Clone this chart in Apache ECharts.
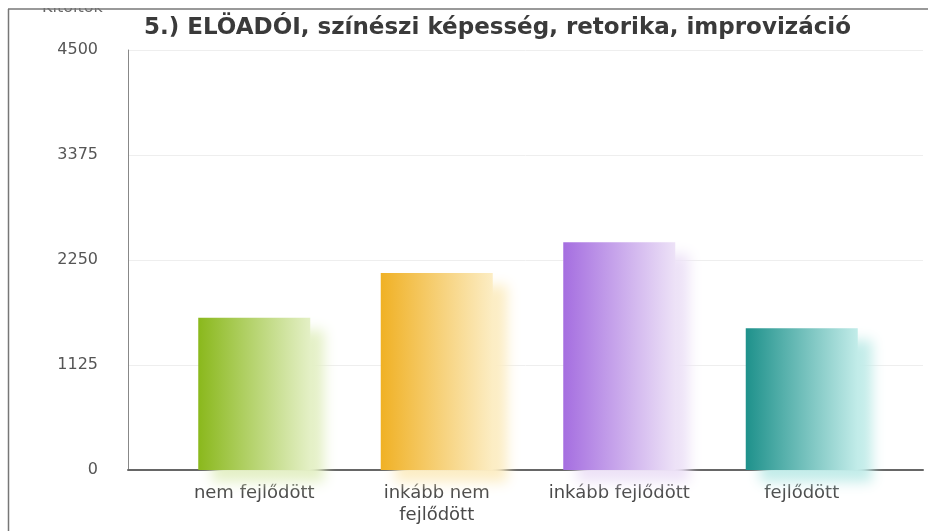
<!DOCTYPE html>
<html>
<head>
<meta charset="utf-8">
<script src="https://cdn.jsdelivr.net/npm/echarts@6/dist/echarts.min.js"></script>
<style>
  html, body { margin: 0; padding: 0; background: #fff; }
  #chart { width: 928px; height: 531px; }
</style>
</head>
<body>
<div id="chart"></div>
<script>
// adatok
const categories = ['nem fejlődött', 'inkább nem\nfejlődött', 'inkább fejlődött', 'fejlődött']
const values = [1630, 2110, 2440, 1520]
const yTicks = [0, 1125, 2250, 3375, 4500]

// színek (bal -> jobb átmenet)
const darkColors = ['#8ab81c', '#f0b125', '#a56ee0', '#1e918b']
const lightColors = ['#e4f0c6', '#fcedc4', '#ede2f7', '#c2ece9']

const chart = echarts.init(document.getElementById('chart'))

const barData = values.map((v, i) => ({
  value: v,
  itemStyle: {
    color: new echarts.graphic.LinearGradient(0, 0, 1, 0, [
      { offset: 0, color: darkColors[i] },
      { offset: 1, color: lightColors[i] }
    ]),
    shadowColor: lightColors[i],
    shadowBlur: 12,
    shadowOffsetX: 14,
    shadowOffsetY: 12
  }
}))

const option = {
  backgroundColor: '#fff',
  animation: false,
  title: {
    text: '5.) ELÖADÓI, színészi képesség, retorika, improvizáció',
    left: 139,
    top: 12,
    textStyle: {
      fontFamily: 'DejaVu Sans',
      fontSize: 23,
      fontWeight: 'bold',
      color: '#3a3a3a'
    }
  },
  grid: [
    { left: 128, right: 5, top: 50, bottom: 61 },
    { left: 163, right: 35, top: 50, bottom: 61 }
  ],
  xAxis: [
    {
      gridIndex: 0,
      type: 'category',
      data: [''],
      axisLine: { lineStyle: { color: '#666', width: 2 } },
      axisTick: { show: false },
      axisLabel: { show: false }
    },
    {
      gridIndex: 1,
      type: 'category',
      data: categories,
      axisLine: { show: false },
      axisTick: { show: false },
      axisLabel: {
        interval: 0,
        color: '#4a4a4a',
        fontFamily: 'DejaVu Sans',
        fontSize: 18,
        lineHeight: 22,
        margin: 12
      }
    }
  ],
  yAxis: [
    {
      gridIndex: 0,
      type: 'value',
      min: yTicks[0],
      max: yTicks[yTicks.length - 1],
      interval: yTicks[1] - yTicks[0],
      axisLine: { show: true, lineStyle: { color: '#888', width: 1 } },
      axisTick: { show: false },
      splitLine: { lineStyle: { color: '#eeeeee' } },
      axisLabel: {
        color: '#555',
        fontFamily: 'DejaVu Sans',
        fontSize: 16,
        margin: 30,
        formatter: v => String(v)
      }
    },
    {
      gridIndex: 1,
      type: 'value',
      min: yTicks[0],
      max: yTicks[yTicks.length - 1],
      show: false
    }
  ],
  series: [
    {
      type: 'bar',
      xAxisIndex: 1,
      yAxisIndex: 1,
      barWidth: 112,
      data: barData
    }
  ],
  graphic: [
    {
      type: 'text',
      left: 42,
      top: 0,
      style: { text: 'Kitöltők', fill: '#666', font: '16px DejaVu Sans' },
      z: 10
    },
    {
      type: 'rect',
      shape: { x: 0, y: 0, width: 928, height: 8 },
      style: { fill: '#fff' },
      z: 11
    },
    {
      type: 'line',
      shape: { x1: 8, y1: 9, x2: 928, y2: 9 },
      style: { stroke: '#777', lineWidth: 1.5 },
      z: 12
    },
    {
      type: 'line',
      shape: { x1: 8.5, y1: 9, x2: 8.5, y2: 531 },
      style: { stroke: '#777', lineWidth: 1.5 },
      z: 12
    }
  ]
}

chart.setOption(option)
</script>
</body>
</html>
